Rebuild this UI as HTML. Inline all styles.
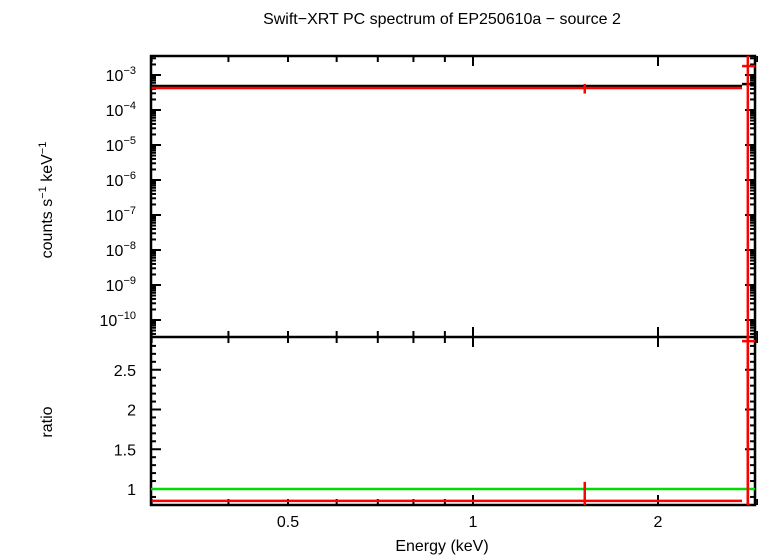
<!DOCTYPE html>
<html><head><meta charset="utf-8"><style>
body{margin:0;background:#fff;}
svg{display:block;font-family:"Liberation Sans",sans-serif;}
</style></head><body>
<svg id="c" width="758" height="556" viewBox="0 0 758 556">
<text x="442" y="24" text-anchor="middle" font-size="16">Swift−XRT PC spectrum of EP250610a − source 2</text>
<g id="g"></g>
<text x="442" y="551" text-anchor="middle" font-size="16">Energy (keV)</text>
<text transform="translate(52,200) rotate(-90)" text-anchor="middle" font-size="16">counts s<tspan dy="-6" font-size="11">−1</tspan><tspan dy="6"> keV</tspan><tspan dy="-6" font-size="11">−1</tspan></text>
<text transform="translate(52,422) rotate(-90)" text-anchor="middle" font-size="16">ratio</text>
</svg>
<script>
const binLo=[0.3,2.74];
const binHi=[2.74,2.88];
const binCenter=[1.52,2.8];
const rate=[4.25e-4,1.8e-3];
const rateErr=[1.3e-4,1.8e-3];
const model=[4.85e-4,5.5e-4];
const ratio=[0.85,2.86];
const ratioErr=[0.24,3];
const xTicks=[0.5,1,2];
const yExps=[-3,-4,-5,-6,-7,-8,-9,-10];
const rTicks=[1,1.5,2,2.5];

const L=151,R=755,T=56,M=337,B=505;
const X=e=>473+614.6*Math.log10(e);
const Y=v=>Math.min(B,Math.max(T,75+35*(-3-Math.log10(Math.max(v,1e-20)))));
const Yr=v=>Math.min(B,Math.max(M,489-(v-1)*79.5));
const g=document.getElementById('g');
const NS='http://www.w3.org/2000/svg';
function el(t,a,p){const e=document.createElementNS(NS,t);for(const k in a)e.setAttribute(k,a[k]);(p||g).appendChild(e);return e;}
function ln(x1,y1,x2,y2,c,w){return el('line',{x1,y1,x2,y2,stroke:c,'stroke-width':w});}

// frame
const f1=el('rect',{x:L,y:T,width:R-L,height:B-T,fill:'none',stroke:'#000','stroke-width':2.5});


const mid=ln(L,M,R,M,'#000',2.5);



// x ticks
for(let e=0.3;e<=2.9;e=Math.round((e+0.1)*10)/10){
  if(e>1&&Math.abs(e-2)>1e-6&&e<2.85&&Math.abs(e*10%10)>0.01&&e!==2)continue;
  const x=X(e);const maj=Math.abs(e-1)<1e-6||Math.abs(e-2)<1e-6;const l=maj?10:6;
  [T,M,B].forEach(y=>{ if(y===M){ln(x,y-l,x,y+l,'#000',2);} else if(y===T){ln(x,y,x,y+l,'#000',2);} else ln(x,y,x,y-l,'#000',2);});
}
[3].forEach(e=>{});
xTicks.forEach(v=>{
  const t=el('text',{x:X(v),y:527,'text-anchor':'middle','font-size':16});t.textContent=String(v);
  
  
});

// y log ticks
for(let d=-11;d<=-3;d++){for(let m=1;m<10;m++){const v=m*Math.pow(10,d);const y=75+35*(-3-Math.log10(v));if(y<T+1||y>M-1)continue;const l=m===1?10:5;ln(L,y,L+l,y,'#000',2);ln(R-l,y,R,y,'#000',2);}}
yExps.forEach(p=>{
  const y=75+35*(-3-p);
  const t=el('text',{x:136,y:y+6,'text-anchor':'end','font-size':16});
  t.innerHTML='10<tspan dy="-7" font-size="11">−'+(-p)+'</tspan>';
  
  
});
// ratio ticks
for(let v=0.9;v<=2.9;v=Math.round((v+0.1)*10)/10){const y=Yr(v);if(y<=M+1||y>=B-1)continue;const maj=Math.abs(v*2-Math.round(v*2))<1e-6;const l=maj?10:5;ln(L,y,L+l,y,'#000',2);ln(R-l,y,R,y,'#000',2);}
rTicks.forEach(v=>{
  const t=el('text',{x:136,y:Yr(v)+6,'text-anchor':'end','font-size':16});t.textContent=String(v);
  
  
});

// model
binLo.forEach((lo,i)=>{
  const m=ln(X(lo),Y(model[i]),X(binHi[i]),Y(model[i]),'#000',2.5);
  
  
});
// data
binLo.forEach((lo,i)=>{
  const h=ln(X(lo),Y(rate[i]),X(binHi[i]),Y(rate[i]),'#f00',2.5);
  
  
  const v=ln(X(binCenter[i]),Y(rate[i]+rateErr[i]),X(binCenter[i]),Y(rate[i]-rateErr[i]),'#f00',2.5);
  
  
});
const gl=ln(L,Yr(1),R,Yr(1),'#0d0',2.5);


binLo.forEach((lo,i)=>{
  const h=ln(X(lo),Yr(ratio[i]),X(binHi[i]),Yr(ratio[i]),'#f00',2.5);
  
  
  const v=ln(X(binCenter[i]),Yr(ratio[i]+ratioErr[i]),X(binCenter[i]),Yr(ratio[i]-ratioErr[i]),'#f00',2.5);
  
  
});
</script>
</body></html>
